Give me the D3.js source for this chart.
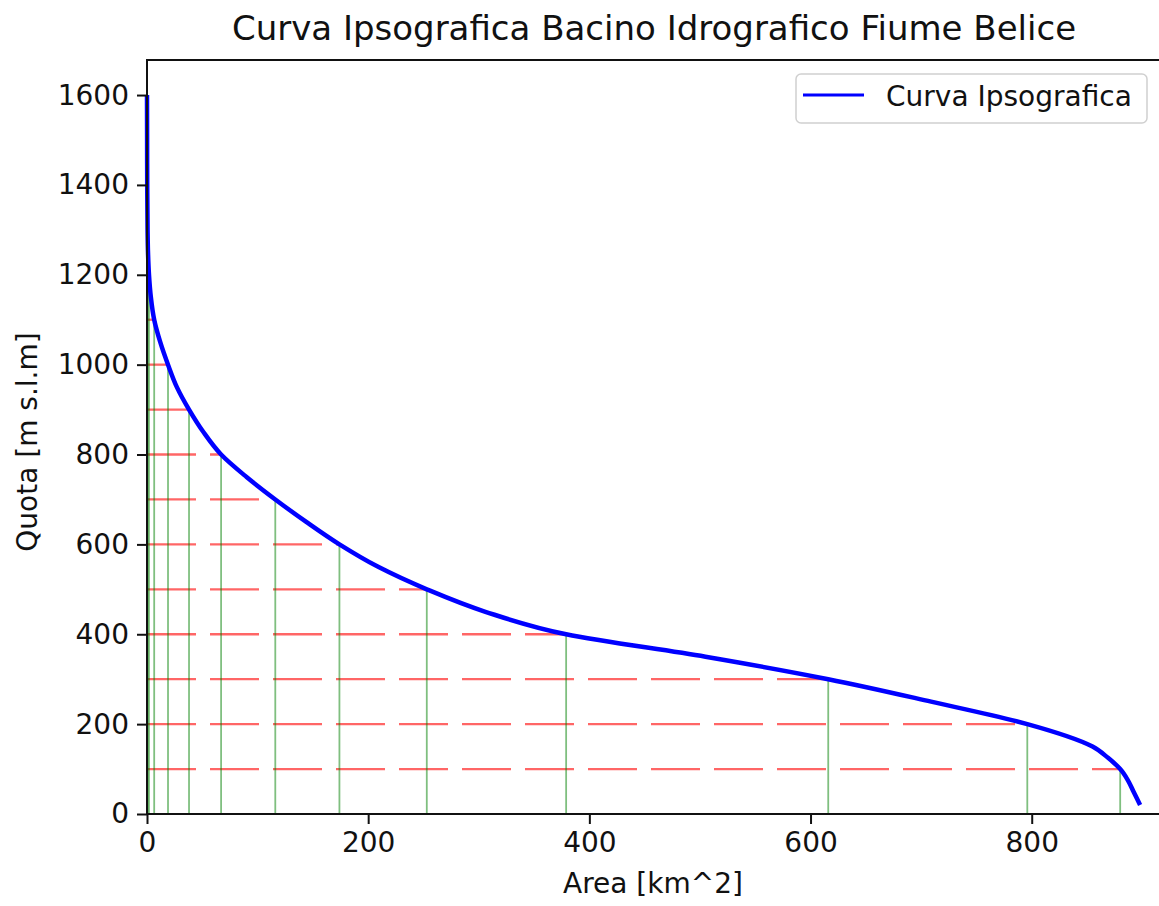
<!DOCTYPE html>
<html>
<head>
<meta charset="utf-8">
<script src="https://cdn.jsdelivr.net/npm/d3@7"></script>
<style>
  body { margin: 0; background: #fff; }
  svg { display: block; }
  text { font-family: "DejaVu Sans", sans-serif; fill: #111; }
</style>
</head>
<body>
<div id="my_dataviz"></div>
<script>
// curva ipsografica: quota [m s.l.m] e area sottesa [km^2]
var quote = [1600, 1500, 1400, 1300, 1250, 1200, 1150, 1100, 1050, 1000, 950, 900, 850, 800,
             750, 700, 650, 600, 550, 500, 450, 400, 350, 300, 250, 200, 150, 125, 100, 75, 50, 20];
var aree  = [0, 0.1, 0.2, 0.5, 0.9, 1.8, 3.5, 6.5, 12, 19, 27, 38, 51, 67,
             90, 116, 144, 174, 209, 253, 306, 379, 505, 616, 709, 796, 855, 869, 880, 887, 892, 898];

// livelli di riferimento (linee tratteggiate e verticali)
var livelli     = [100, 200, 300, 400, 500, 600, 700, 800, 900, 1000, 1100, 1200, 1300, 1400, 1500];
var areeLivelli = [880, 796, 616, 379, 253, 174, 116, 67, 38, 19, 6.5, 1.8, 0.5, 0.2, 0.1];

var xTicks = [0, 200, 400, 600, 800];
var yTicks = [0, 200, 400, 600, 800, 1000, 1200, 1400, 1600];

var W = 1159, H = 906;
var margin = {left: 147, top: 60, right: 1160, bottom: 814};

var svg = d3.select("#my_dataviz").append("svg")
    .attr("width", W)
    .attr("height", H);

var x = d3.scaleLinear().domain([0, 916]).range([margin.left, margin.right]);
var y = d3.scaleLinear().domain([0, 1678]).range([margin.bottom, margin.top]);

var data = quote.map(function(q, i) { return {q: q, a: aree[i]}; });
var lev = livelli.map(function(q, i) { return {q: q, a: areeLivelli[i]}; });

var plot = svg.append("g");

// linee orizzontali tratteggiate
plot.selectAll("line.h")
    .data(lev)
    .enter()
    .append("line")
    .attr("class", "h")
    .attr("x1", x(0))
    .attr("x2", function(d) { return x(d.a); })
    .attr("y1", function(d) { return y(d.q); })
    .attr("y2", function(d) { return y(d.q); })
    .style("stroke", "#ff0000")
    .style("stroke-opacity", 0.6)
    .style("stroke-width", 2.3)
    .style("stroke-dasharray", "49,14");

// linee verticali
plot.selectAll("line.v")
    .data(lev)
    .enter()
    .append("line")
    .attr("class", "v")
    .attr("x1", function(d) { return x(d.a); })
    .attr("x2", function(d) { return x(d.a); })
    .attr("y1", y(0))
    .attr("y2", function(d) { return y(d.q); })
    .style("stroke", "#008000")
    .style("stroke-opacity", 0.5)
    .style("stroke-width", 1.8);

// curva
var valueline = d3.line()
    .x(function(d) { return x(d.a); })
    .y(function(d) { return y(d.q); })
    .curve(d3.curveMonotoneY);

plot.append("path")
    .datum(data)
    .attr("d", valueline)
    .style("fill", "none")
    .style("stroke", "#0000ff")
    .style("stroke-width", 4.5);

// assi
var xAxis = svg.append("g")
    .attr("transform", "translate(0," + margin.bottom + ")")
    .call(d3.axisBottom(x).tickValues(xTicks).tickSize(10).tickPadding(8).tickFormat(d3.format("d")));
var yAxis = svg.append("g")
    .attr("transform", "translate(" + margin.left + ",0)")
    .call(d3.axisLeft(y).tickValues(yTicks).tickSize(10).tickPadding(8).tickFormat(d3.format("d")));

[xAxis, yAxis].forEach(function(a) {
    a.select(".domain").remove();
    a.selectAll(".tick line").style("stroke", "#111").style("stroke-width", 2);
    a.selectAll(".tick text").style("font-size", "28px").style("fill", "#111")
        .style("font-family", "'DejaVu Sans', sans-serif");
});

// cornice
svg.append("rect")
    .attr("x", margin.left)
    .attr("y", margin.top)
    .attr("width", margin.right - margin.left)
    .attr("height", margin.bottom - margin.top)
    .style("fill", "none")
    .style("stroke", "#111")
    .style("stroke-width", 2);

// titolo ed etichette
svg.append("text")
    .attr("x", 654).attr("y", 40)
    .attr("text-anchor", "middle")
    .style("font-size", "34px")
    .text("Curva Ipsografica Bacino Idrografico Fiume Belice");

svg.append("text")
    .attr("x", 653).attr("y", 893)
    .attr("text-anchor", "middle")
    .style("font-size", "28px")
    .text("Area [km^2]");

svg.append("text")
    .attr("transform", "translate(37,442) rotate(-90)")
    .attr("text-anchor", "middle")
    .style("font-size", "28px")
    .text("Quota [m s.l.m]");

// legenda
var leg = svg.append("g").attr("transform", "translate(796,74)");
leg.append("rect")
    .attr("width", 351).attr("height", 49).attr("rx", 5)
    .style("fill", "#fff")
    .style("stroke", "#d0d0d0")
    .style("stroke-width", 1.5);
leg.append("line")
    .attr("x1", 7).attr("x2", 68).attr("y1", 21).attr("y2", 21)
    .style("stroke", "#0000ff")
    .style("stroke-width", 3);
leg.append("text")
    .attr("x", 90).attr("y", 32)
    .style("font-size", "28px")
    .text("Curva Ipsografica");
</script>
</body>
</html>
